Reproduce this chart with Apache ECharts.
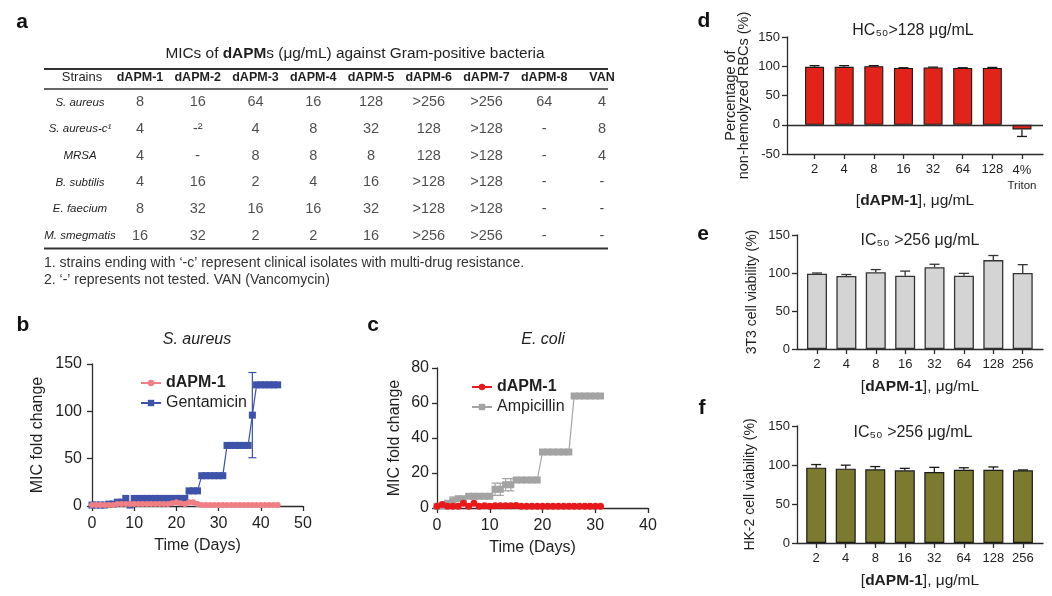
<!DOCTYPE html>
<html><head><meta charset="utf-8">
<script src="https://cdn.jsdelivr.net/npm/echarts@6/dist/echarts.min.js"></script>
<style>html,body{margin:0;padding:0;background:#fff}#c{width:1052px;height:596px}</style>
</head><body><div id="c"></div>
<script>
const FONT = '"Liberation Sans", Arial, Helvetica, sans-serif';
const AX = '#2b2b2b';
const TXT = '#1f1f1f';

// ---------- Panel a: MIC table ----------
const tableTitle = ['MICs of ', 'dAPM', 's (μg/mL) against Gram-positive bacteria'];
const tableHeaderFirst = 'Strains';
const tableCols = ['dAPM-1','dAPM-2','dAPM-3','dAPM-4','dAPM-5','dAPM-6','dAPM-7','dAPM-8','VAN'];
const tableRows = ['S. aureus','S. aureus-c¹','MRSA','B. subtilis','E. faecium','M. smegmatis'];
const micSaureus   = ['8','16','64','16','128','>256','>256','64','4'];
const micSaureusC  = ['4','-²','4','8','32','128','>128','-','8'];
const micMRSA      = ['4','-','8','8','8','128','>128','-','4'];
const micBsubtilis = ['4','16','2','4','16','>128','>128','-','-'];
const micEfaecium  = ['8','32','16','16','32','>128','>128','-','-'];
const micMsmeg     = ['16','32','2','2','16','>256','>256','-','-'];
const footnotes = [
  '1. strains ending with ‘-c’ represent clinical isolates with multi-drug resistance.',
  '2. ‘-’ represents not tested. VAN (Vancomycin)'
];

// ---------- Panel b: S. aureus resistance ----------
const bDays = [0,1,2,3,4,5,6,7,8,9,10,11,12,13,14,15,16,17,18,19,20,21,22,23,24,25,26,27,28,29,30,31,32,33,34,35,36,37,38,39,40,41,42,43,44];
const bDapm1 = [1,1,1,1,1,1,2,2,2,2,2,2,2,2,2,2,2,2,2,3,4,3,2,4,4,2,1,1,1,1,1,1,1,1,1,1,1,1,1,1,1,1,1,1,1];
const bGentamicin = [1,1,1,1,2,2,4,4,8,1,8,8,8,8,8,8,8,8,8,8,8,8,8,16,16,16,32,32,32,32,32,32,64,64,64,64,64,64,96,128,128,128,128,128,128];
const bGentErrDays = [38];
const bGentErrMean = [96];
const bGentErr = [45];

// ---------- Panel c: E. coli resistance ----------
const cDays = [0,1,2,3,4,5,6,7,8,9,10,11,12,13,14,15,16,17,18,19,20,21,22,23,24,25,26,27,28,29,30,31];
const cDapm1 = [1,2,1,1,1,2.7,1,2.7,1,1.3,1,1.3,1.3,1.3,1.3,1.5,1,1,1,1,1,1,1,1,1,1,1,1,1,1,1,1];
const cAmpicillin = [1,1.3,2.7,4,5.3,5.3,6.7,6.7,6.7,6.7,6.7,10.7,10.7,13.3,13.3,16,16,16,16,16,32,32,32,32,32,32,64,64,64,64,64,64];
const cAmpErrDays = [3,11,12,13,14];
const cAmpErrMean = [4,10.7,10.7,13.3,13.3];
const cAmpErr = [2.3,3.5,3.5,3.5,3.5];

// ---------- Panel d: hemolysis ----------
const dLabels = ['2','4','8','16','32','64','128','4%\nTriton'];
const dValues = [99,99,100,97,98,97,97,-8];
const dErrors = [2,2,1,0.5,0.5,0.5,1,12];

// ---------- Panel e: 3T3 viability ----------
const eLabels = ['2','4','8','16','32','64','128','256'];
const eValues = [99,96,101,96.5,107.5,96.5,117,100];
const eErrors = [1,2,3.5,6,4,3,6,11];

// ---------- Panel f: HK-2 viability ----------
const fLabels = ['2','4','8','16','32','64','128','256'];
const fValues = [96.6,95.3,94.5,93.2,91,94,94,93.2];
const fErrors = [4,4.5,3.5,2.5,6,2.5,3.5,0.5];

// colours
const PINK = '#f07f84', BLUE = '#3d52a8', RED = '#e8191c', GREY = '#a3a3a3';
const DRED = '#e2231a', LGREY = '#d4d4d4', OLIVE = '#7b7a2e';

// ---------- helpers ----------
function axisBase(extra) {
  const base = {
    axisLine: {show: true, onZero: false, lineStyle: {color: AX, width: 1.3}},
    axisTick: {show: true, inside: false, length: 5, lineStyle: {color: AX, width: 1.3}},
    splitLine: {show: false},
    axisLabel: {color: TXT, fontFamily: FONT, fontSize: 13},
    nameTextStyle: {color: TXT, fontFamily: FONT}
  };
  for (const k in extra) {
    if (base[k] && typeof base[k] === 'object' && !Array.isArray(base[k]) && typeof extra[k] === 'object') {
      base[k] = Object.assign({}, base[k], extra[k]);
    } else base[k] = extra[k];
  }
  return base;
}

function barErrSeries(values, errors, idx, color, cap) {
  return {
    type: 'custom', xAxisIndex: idx, yAxisIndex: idx, z: 5, silent: true,
    data: values.map((v, i) => [i, v, errors[i]]),
    renderItem(params, api) {
      const x = api.value(0), v = api.value(1), e = api.value(2);
      const end = v >= 0 ? v + e : v - e;
      const p0 = api.coord([x, v]), p1 = api.coord([x, end]);
      return {type: 'group', children: [
        {type: 'line', shape: {x1: p0[0], y1: p0[1], x2: p1[0], y2: p1[1]}, style: {stroke: color, lineWidth: 1.3}},
        {type: 'line', shape: {x1: p1[0] - cap, y1: p1[1], x2: p1[0] + cap, y2: p1[1]}, style: {stroke: color, lineWidth: 1.3}}
      ]};
    }
  };
}

function pointErrSeries(days, means, errs, idx, color, cap) {
  return {
    type: 'custom', xAxisIndex: idx, yAxisIndex: idx, z: 3, silent: true,
    data: days.map((d, i) => [d, means[i], errs[i]]),
    renderItem(params, api) {
      const x = api.value(0), v = api.value(1), e = api.value(2);
      const top = api.coord([x, v + e]), bot = api.coord([x, v - e]);
      const st = {stroke: color, lineWidth: 1.2};
      return {type: 'group', children: [
        {type: 'line', shape: {x1: top[0], y1: top[1], x2: bot[0], y2: bot[1]}, style: st},
        {type: 'line', shape: {x1: top[0] - cap, y1: top[1], x2: top[0] + cap, y2: top[1]}, style: st},
        {type: 'line', shape: {x1: bot[0] - cap, y1: bot[1], x2: bot[0] + cap, y2: bot[1]}, style: st}
      ]};
    }
  };
}

function catLabelFormatter(labels) {
  return function (v) {
    const s = labels[Math.round(v)];
    if (s === undefined) return '';
    if (s.indexOf('\n') >= 0) {
      const parts = s.split('\n');
      return '{a|' + parts[0] + '}\n{t|' + parts[1] + '}';
    }
    return s;
  };
}

const concNameRich = {
  n: {fontSize: 15.5, fontFamily: FONT, color: TXT},
  b: {fontSize: 15.5, fontFamily: FONT, color: TXT, fontWeight: 'bold'}
};
const concName = '{n|[}{b|dAPM-1}{n|], μg/mL}';
const idxTicks = [0,1,2,3,4,5,6,7];

// ---------- table cells ----------
const tableData = [micSaureus, micSaureusC, micMRSA, micBsubtilis, micEfaecium, micMsmeg];
const cellPoints = [];
tableData.forEach((row, r) => row.forEach((val, c) => cellPoints.push([c, r, val])));

// ---------- graphic text ----------
function txt(x, y, text, o) {
  return {type: 'text', x: x, y: y, silent: true, style: Object.assign({
    text: text, fontFamily: FONT, fontSize: 15, fill: TXT, align: 'center', verticalAlign: 'middle'
  }, o || {})};
}
function rule(y, w) {
  return {type: 'line', silent: true, shape: {x1: 44, y1: y, x2: 608, y2: y}, style: {stroke: '#333', lineWidth: w}};
}

const graphics = [
  txt(22, 22, 'a', {fontSize: 21, fontWeight: 'bold', fill: '#111'}),
  txt(23, 325, 'b', {fontSize: 21, fontWeight: 'bold', fill: '#111'}),
  txt(373, 325, 'c', {fontSize: 21, fontWeight: 'bold', fill: '#111'}),
  txt(704, 21, 'd', {fontSize: 21, fontWeight: 'bold', fill: '#111'}),
  txt(703, 234, 'e', {fontSize: 21, fontWeight: 'bold', fill: '#111'}),
  txt(702, 408, 'f', {fontSize: 21, fontWeight: 'bold', fill: '#111'}),
  {type: 'text', x: 355, y: 54, silent: true, style: {
    text: '{n|' + tableTitle[0] + '}{b|' + tableTitle[1] + '}{n|' + tableTitle[2] + '}',
    align: 'center', verticalAlign: 'middle',
    rich: {
      n: {fontSize: 15.4, fontFamily: FONT, fill: TXT, color: TXT},
      b: {fontSize: 15.4, fontFamily: FONT, fill: TXT, color: TXT, fontWeight: 'bold'}
    }
  }},
  rule(69, 2), rule(89, 1.5), rule(248.5, 2),
  txt(82, 77.5, tableHeaderFirst, {fontSize: 13}),
  txt(44, 263, footnotes[0], {fontSize: 14, align: 'left', fill: '#333'}),
  txt(44, 280, footnotes[1], {fontSize: 14, align: 'left', fill: '#333'}),
  txt(197, 340, 'S. aureus', {fontSize: 16, fontStyle: 'italic'}),
  txt(543, 340, 'E. coli', {fontSize: 16, fontStyle: 'italic'}),
  txt(913, 31, 'HC₅₀>128 μg/mL', {fontSize: 16}),
  txt(920, 241, 'IC₅₀ >256 μg/mL', {fontSize: 16}),
  txt(913, 433, 'IC₅₀ >256 μg/mL', {fontSize: 16})
];

const option = {
  animation: false,
  backgroundColor: '#fff',
  textStyle: {fontFamily: FONT},
  grid: [
    {left: 140, top: 89, width: 462, height: 160},   // a table
    {left: 92, top: 364, width: 211, height: 142},   // b
    {left: 437, top: 368, width: 211, height: 140},  // c
    {left: 787, top: 37, width: 256, height: 117},   // d
    {left: 797, top: 235, width: 246, height: 114},  // e
    {left: 797, top: 426, width: 246, height: 117}   // f
  ],
  xAxis: [
    {gridIndex: 0, type: 'category', position: 'top', data: tableCols, boundaryGap: false,
     axisLine: {show: false}, axisTick: {show: false}, splitLine: {show: false},
     axisLabel: {fontFamily: FONT, fontSize: 12.5, fontWeight: 'bold', color: TXT, margin: 5, interval: 0}},
    axisBase({gridIndex: 1, type: 'value', min: 0, max: 50, interval: 10,
      axisLabel: {fontSize: 16, margin: 10},
      name: 'Time (Days)', nameLocation: 'middle', nameGap: 32,
      nameTextStyle: {fontSize: 16}}),
    axisBase({gridIndex: 2, type: 'value', min: 0, max: 40, interval: 10,
      axisLabel: {fontSize: 16, margin: 10},
      name: 'Time (Days)', nameLocation: 'middle', nameGap: 32,
      nameTextStyle: {fontSize: 16, padding: [0, 20, 0, 0]}}),
    axisBase({gridIndex: 3, type: 'value', min: -0.93, max: 7.71,
      axisTick: {customValues: idxTicks},
      axisLabel: {customValues: idxTicks, formatter: catLabelFormatter(dLabels), margin: 9,
        rich: {a: {fontSize: 13, fontFamily: FONT, color: TXT, lineHeight: 15}, t: {fontSize: 11.5, fontFamily: FONT, color: TXT, lineHeight: 15}}},
      name: concName, nameLocation: 'middle', nameGap: 28, nameTextStyle: {rich: concNameRich}}),
    axisBase({gridIndex: 4, type: 'value', min: -0.68, max: 7.69,
      axisTick: {customValues: idxTicks},
      axisLabel: {customValues: idxTicks, formatter: catLabelFormatter(eLabels), margin: 9},
      name: concName, nameLocation: 'middle', nameGap: 30, nameTextStyle: {rich: concNameRich}}),
    axisBase({gridIndex: 5, type: 'value', min: -0.65, max: 7.68,
      axisTick: {customValues: idxTicks},
      axisLabel: {customValues: idxTicks, formatter: catLabelFormatter(fLabels), margin: 9},
      name: concName, nameLocation: 'middle', nameGap: 30, nameTextStyle: {rich: concNameRich}})
  ],
  yAxis: [
    {gridIndex: 0, type: 'category', inverse: true, data: tableRows,
     axisLine: {show: false}, axisTick: {show: false}, splitLine: {show: false},
     axisLabel: {fontFamily: FONT, fontSize: 11.5, fontStyle: 'italic', color: TXT, align: 'center', margin: 60, interval: 0}},
    axisBase({gridIndex: 1, type: 'value', min: 0, max: 150, interval: 50,
      axisLabel: {fontSize: 16, margin: 10},
      name: 'MIC fold change', nameLocation: 'middle', nameGap: 46, nameTextStyle: {fontSize: 16}}),
    axisBase({gridIndex: 2, type: 'value', min: 0, max: 80, interval: 20,
      axisLabel: {fontSize: 16, margin: 8},
      name: 'MIC fold change', nameLocation: 'middle', nameGap: 34, nameTextStyle: {fontSize: 16}}),
    axisBase({gridIndex: 3, type: 'value', min: -50, max: 150, interval: 50,
      axisLabel: {margin: 7},
      name: 'Percentage of\nnon-hemolyzed RBCs (%)', nameLocation: 'middle', nameGap: 37,
      nameTextStyle: {fontSize: 14.5, lineHeight: 13}}),
    axisBase({gridIndex: 4, type: 'value', min: 0, max: 150, interval: 50,
      axisLabel: {margin: 7},
      name: '3T3 cell viability (%)', nameLocation: 'middle', nameGap: 38, nameTextStyle: {fontSize: 14}}),
    axisBase({gridIndex: 5, type: 'value', min: 0, max: 150, interval: 50,
      axisLabel: {margin: 7},
      name: 'HK-2 cell viability (%)', nameLocation: 'middle', nameGap: 40, nameTextStyle: {fontSize: 14}})
  ],
  legend: [
    {left: 135, top: 370, orient: 'vertical', itemGap: 4, itemWidth: 20, itemHeight: 8,
     data: ['dAPM-1', 'Gentamicin'],
     formatter: n => n.indexOf('dAPM-1') === 0 ? '{b|dAPM-1}' : n,
     textStyle: {fontFamily: FONT, fontSize: 16, color: TXT, rich: {b: {fontFamily: FONT, fontSize: 16, fontWeight: 'bold', color: TXT}}}},
    {left: 466, top: 374, orient: 'vertical', itemGap: 4, itemWidth: 20, itemHeight: 8,
     data: ['dAPM-1\u200b', 'Ampicillin'],
     formatter: n => n.indexOf('dAPM-1') === 0 ? '{b|dAPM-1}' : n,
     textStyle: {fontFamily: FONT, fontSize: 16, color: TXT, rich: {b: {fontFamily: FONT, fontSize: 16, fontWeight: 'bold', color: TXT}}}}
  ],
  graphic: graphics,
  series: [
    // table cells
    {type: 'scatter', xAxisIndex: 0, yAxisIndex: 0, silent: true, symbolSize: 1,
     itemStyle: {color: 'rgba(0,0,0,0)'},
     data: cellPoints,
     label: {show: true, position: 'inside', formatter: p => p.data[2], fontFamily: FONT, fontSize: 14.5, color: TXT}},
    // b
    {type: 'line', name: 'Gentamicin', xAxisIndex: 1, yAxisIndex: 1, z: 3,
     data: bDays.map((d, i) => [d, bGentamicin[i]]),
     symbol: 'rect', symbolSize: 7, lineStyle: {color: BLUE, width: 1.2}, itemStyle: {color: BLUE}},
    pointErrSeries(bGentErrDays, bGentErrMean, bGentErr, 1, BLUE, 4),
    {type: 'line', name: 'dAPM-1', xAxisIndex: 1, yAxisIndex: 1, z: 4,
     data: bDays.map((d, i) => [d, bDapm1[i]]),
     symbol: 'circle', symbolSize: 6, lineStyle: {color: PINK, width: 1.2}, itemStyle: {color: PINK}},
    // c
    {type: 'line', name: 'Ampicillin', xAxisIndex: 2, yAxisIndex: 2, z: 3,
     data: cDays.map((d, i) => [d, cAmpicillin[i]]),
     symbol: 'rect', symbolSize: 7, lineStyle: {color: GREY, width: 1.2}, itemStyle: {color: GREY}},
    pointErrSeries(cAmpErrDays, cAmpErrMean, cAmpErr, 2, GREY, 3.5),
    {type: 'line', name: 'dAPM-1\u200b', xAxisIndex: 2, yAxisIndex: 2, z: 4,
     data: cDays.map((d, i) => [d, cDapm1[i]]),
     symbol: 'circle', symbolSize: 7, lineStyle: {color: RED, width: 1.2}, itemStyle: {color: RED}},
    // d
    {type: 'bar', xAxisIndex: 3, yAxisIndex: 3, barWidth: 19, silent: true,
     data: dValues.map((v, i) => [i, v]),
     itemStyle: {color: DRED, borderColor: '#1a1a1a', borderWidth: 1.1},
     markLine: {silent: true, symbol: 'none', label: {show: false}, animation: false,
       lineStyle: {color: AX, type: 'solid', width: 1.3}, data: [{yAxis: 0}]}},
    barErrSeries(dValues, dErrors, 3, '#1a1a1a', 5),
    // e
    {type: 'bar', xAxisIndex: 4, yAxisIndex: 4, barWidth: 20, silent: true,
     data: eValues.map((v, i) => [i, v]),
     itemStyle: {color: LGREY, borderColor: '#333', borderWidth: 1.3}},
    barErrSeries(eValues, eErrors, 4, '#333', 5),
    // f
    {type: 'bar', xAxisIndex: 5, yAxisIndex: 5, barWidth: 20, silent: true,
     data: fValues.map((v, i) => [i, v]),
     itemStyle: {color: OLIVE, borderColor: '#1a1a1a', borderWidth: 1.2}},
    barErrSeries(fValues, fErrors, 5, '#1a1a1a', 5)
  ]
};

const chart = echarts.init(document.getElementById('c'), null, {renderer: 'canvas', width: 1052, height: 596});
chart.setOption(option);
</script>
</body></html>
